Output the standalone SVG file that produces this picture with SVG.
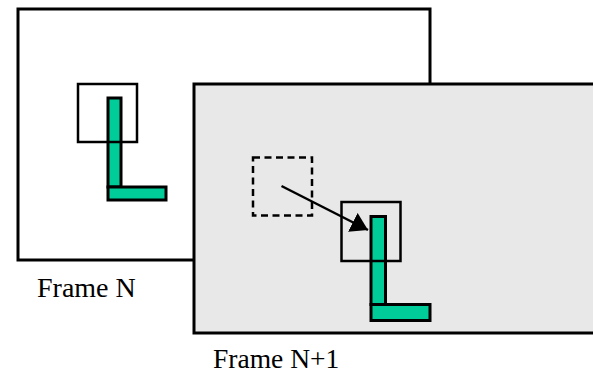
<svg xmlns="http://www.w3.org/2000/svg" width="593" height="374" viewBox="0 0 593 374">
<style>
.frame{stroke:#000;stroke-width:3}
.box{fill:none;stroke:#000;stroke-width:2.5}
.dash{fill:none;stroke:#000;stroke-width:2.5;stroke-dasharray:7 4.5}
.bar{fill:#00CC99;stroke:#000;stroke-width:3}
.lbl{font-family:"Liberation Serif","Times New Roman",serif;font-size:28px;fill:#000}
.conn{stroke:#000;stroke-width:2.5;fill:none}
</style>
<defs>
<marker id="ah" markerUnits="userSpaceOnUse" markerWidth="20" markerHeight="22" refX="17" refY="10.5" orient="auto" viewBox="0 0 20 22">
<path d="M0,0 L17,10.5 L0,21 Z" fill="#000"/>
</marker>
</defs>
<rect width="593" height="374" fill="#fff"/>
<g id="frameN">
<rect class="frame" x="18" y="9" width="412" height="251" fill="#fff"/>
<rect class="bar" x="108" y="98" width="13" height="89"/>
<rect class="bar" x="108" y="187" width="58" height="13"/>
<rect class="box" x="78" y="84" width="59" height="58"/>
<text class="lbl" x="37" y="297">Frame N</text>
</g>
<g id="frameN1">
<rect class="frame" x="194" y="84" width="410" height="249" fill="#e8e8e8"/>
<rect class="dash" x="253" y="157.5" width="59" height="58"/>
<rect class="bar" x="371" y="216.5" width="14.5" height="88"/>
<rect class="bar" x="371" y="304.5" width="59" height="16"/>
<rect class="box" x="341.5" y="202" width="59" height="59"/>
<text class="lbl" x="213" y="368" style="font-size:27.5px">Frame N+1</text>
</g>
<g id="connectors">
<line class="conn" x1="281.5" y1="186" x2="368" y2="230" marker-end="url(#ah)"/>
</g>
</svg>
